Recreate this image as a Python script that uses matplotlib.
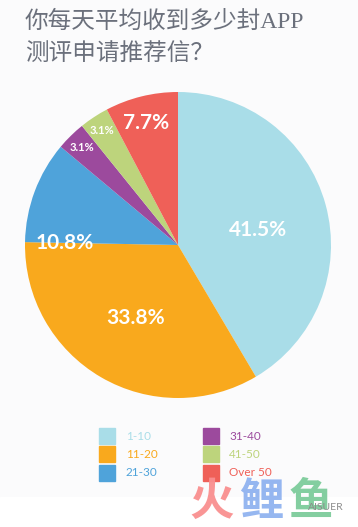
import matplotlib
matplotlib.use('Agg')
import matplotlib.pyplot as plt
from matplotlib.patches import Rectangle

plt.rcParams['font.family'] = ['Lato', 'Noto Sans CJK SC', 'DejaVu Sans']

# Daten
categories = ['1-10', '11-20', '21-30', '31-40', '41-50', 'Over 50']
shares = [41.5, 33.8, 10.8, 3.1, 3.1, 7.7]
colors = ['#a9dde8', '#f9a91d', '#4fa3da', '#9c4a9d', '#bdd47c', '#ef6058']
label_pos = [(0.52, 0.10), (-0.28, -0.48), (-0.74, 0.01), (-0.63, 0.64), (-0.50, 0.75), (-0.21, 0.80)]
label_size = [15, 15, 15, 8, 8, 15]

W, H = 358, 527
fig = plt.figure(figsize=(W / 100, H / 100), dpi=100)
fig.patch.set_facecolor('#fbfbfc')
# weisser Streifen unten
fig.add_artist(Rectangle((0, 0), 1, 30 / H, transform=fig.transFigure, color='white', zorder=0))

# Titel
title_font = ['Liberation Serif', 'Noto Sans CJK SC', 'DejaVu Sans']
fig.text(25 / W, 1 - 22 / H, '你每天平均收到多少封APP', fontsize=17, color='#6b707c',
         va='center', ha='left', family=title_font)
fig.text(25 / W, 1 - 54 / H, '测评申请推荐信？', fontsize=17, color='#6b707c',
         va='center', ha='left', family=title_font)

# Kreisdiagramm
cx, cy, r = 178, 245, 153
ax = fig.add_axes([(cx - r) / W, 1 - (cy + r) / H, 2 * r / W, 2 * r / H])
wedges, _ = ax.pie(shares, colors=colors, startangle=90, counterclock=False,
                   wedgeprops=dict(linewidth=0))
ax.set_aspect('equal')
ax.set_xlim(-1, 1)
ax.set_ylim(-1, 1)
ax.axis('off')

for s, (x, y), fs in zip(shares, label_pos, label_size):
    ax.text(x, y, f'{s}%', color='white', fontsize=fs, fontweight='bold',
            ha='center', va='center')

# Legende
sq = 16
rows = [436, 454, 473]
cols = [(99, 126), (203, 229)]
for i, (cat, col) in enumerate(zip(categories, colors)):
    sx, tx = cols[i // 3]
    yc = rows[i % 3]
    fig.add_artist(Rectangle((sx / W, 1 - (yc + sq / 2) / H), sq / W, sq / H,
                             transform=fig.transFigure, color=col))
    fig.text(tx / W, 1 - yc / H, cat, color=col, fontsize=8.5, va='center', ha='left')

# Wasserzeichen
wm = [('火', '#f98f8f', 212), ('鲤', '#90b3f0', 261), ('鱼', '#7dcc9b', 311)]
for ch, col, x in wm:
    fig.text(x / W, 1 - 502 / H, ch, color=col, fontsize=32, fontweight='bold',
             ha='center', va='center', family=['Noto Sans CJK SC'], alpha=0.95, zorder=3)
fig.text(326 / W, 1 - 508 / H, 'AISUER', color='#8c8c8c', fontsize=7.5,
         ha='center', va='center', zorder=10)

fig.savefig('out.png', dpi=100, facecolor=fig.get_facecolor())
